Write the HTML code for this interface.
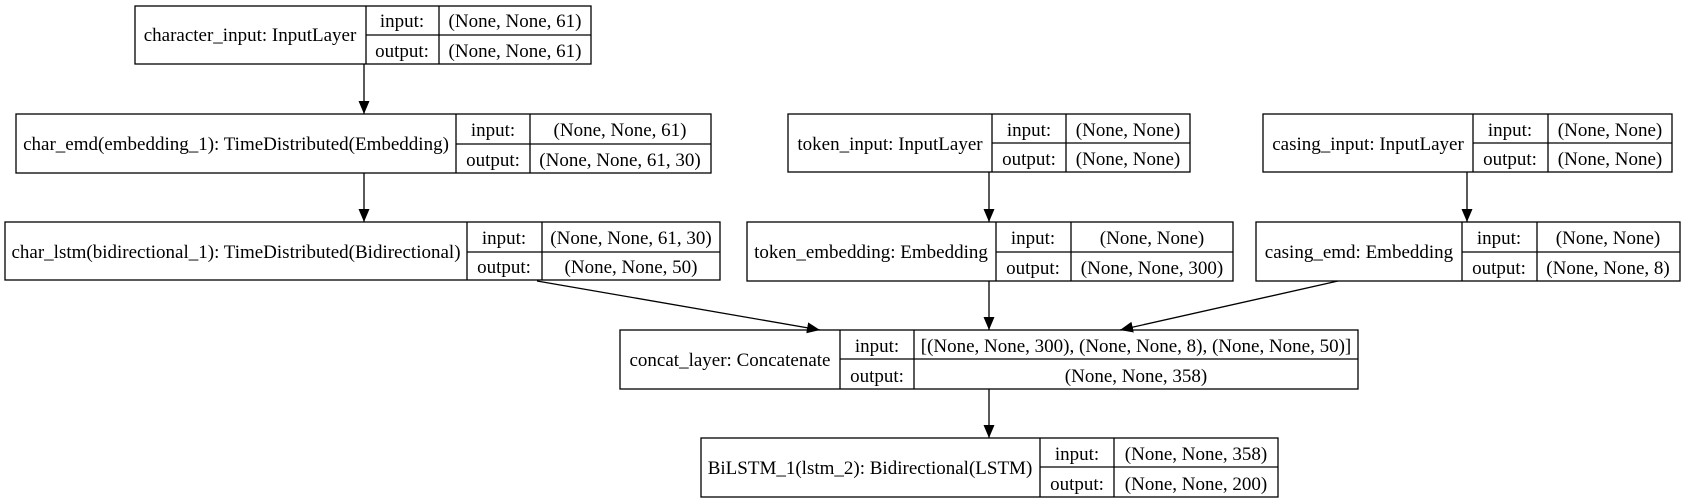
<!DOCTYPE html>
<html><head><meta charset="utf-8"><style>
html,body{margin:0;padding:0;background:#fff;}
svg{display:block;}
text{font-family:"Liberation Serif",serif;font-size:19px;fill:#000;text-anchor:middle;}
rect,line.b{fill:none;stroke:#000;stroke-width:1.3;}
</style></head><body>
<svg width="1685" height="503" viewBox="0 0 1685 503" xmlns="http://www.w3.org/2000/svg">
<defs><marker id="ah" markerWidth="10" markerHeight="10" refX="10" refY="5" orient="auto" markerUnits="userSpaceOnUse" viewBox="0 0 10 10"><path d="M0,0 L10,5 L0,10 z" fill="#000"/></marker>
<marker id="a2" markerWidth="13" markerHeight="13" refX="13" refY="6.5" orient="auto" markerUnits="userSpaceOnUse" viewBox="0 0 13 13"><path d="M0,1 L13,6.5 L0,12 z" fill="#000"/></marker></defs>

<!-- node1 -->
<rect x="135" y="6" width="456" height="58"/>
<line class="b" x1="366" y1="6" x2="366" y2="64"/><line class="b" x1="439" y1="6" x2="439" y2="64"/><line class="b" x1="366" y1="35" x2="591" y2="35"/>
<text x="250" y="41">character_input: InputLayer</text>
<text x="402" y="27">input:</text><text x="402" y="57">output:</text>
<text x="515" y="27">(None, None, 61)</text><text x="515" y="57">(None, None, 61)</text>

<!-- char_emd -->
<rect x="16" y="114" width="695" height="59"/>
<line class="b" x1="456" y1="114" x2="456" y2="173"/><line class="b" x1="530" y1="114" x2="530" y2="173"/><line class="b" x1="456" y1="144" x2="711" y2="144"/>
<text x="236" y="150">char_emd(embedding_1): TimeDistributed(Embedding)</text>
<text x="493" y="136">input:</text><text x="493" y="166">output:</text>
<text x="620" y="136">(None, None, 61)</text><text x="620" y="166">(None, None, 61, 30)</text>

<!-- char_lstm -->
<rect x="5" y="222" width="715" height="58"/>
<line class="b" x1="467" y1="222" x2="467" y2="280"/><line class="b" x1="542" y1="222" x2="542" y2="280"/><line class="b" x1="467" y1="252" x2="720" y2="252"/>
<text x="236" y="258">char_lstm(bidirectional_1): TimeDistributed(Bidirectional)</text>
<text x="504" y="244">input:</text><text x="504" y="273">output:</text>
<text x="631" y="244">(None, None, 61, 30)</text><text x="631" y="273">(None, None, 50)</text>

<!-- token_input -->
<rect x="788" y="114" width="402" height="58"/>
<line class="b" x1="992" y1="114" x2="992" y2="172"/><line class="b" x1="1066" y1="114" x2="1066" y2="172"/><line class="b" x1="992" y1="143" x2="1190" y2="143"/>
<text x="890" y="150">token_input: InputLayer</text>
<text x="1029" y="136">input:</text><text x="1029" y="165">output:</text>
<text x="1128" y="136">(None, None)</text><text x="1128" y="165">(None, None)</text>

<!-- casing_input -->
<rect x="1263" y="114" width="409" height="58"/>
<line class="b" x1="1473" y1="114" x2="1473" y2="172"/><line class="b" x1="1548" y1="114" x2="1548" y2="172"/><line class="b" x1="1473" y1="143" x2="1672" y2="143"/>
<text x="1368" y="150">casing_input: InputLayer</text>
<text x="1510" y="136">input:</text><text x="1510" y="165">output:</text>
<text x="1610" y="136">(None, None)</text><text x="1610" y="165">(None, None)</text>

<!-- token_embedding -->
<rect x="747" y="222" width="486" height="59"/>
<line class="b" x1="996" y1="222" x2="996" y2="281"/><line class="b" x1="1071" y1="222" x2="1071" y2="281"/><line class="b" x1="996" y1="252" x2="1233" y2="252"/>
<text x="871" y="258">token_embedding: Embedding</text>
<text x="1033" y="244">input:</text><text x="1033" y="274">output:</text>
<text x="1152" y="244">(None, None)</text><text x="1152" y="274">(None, None, 300)</text>

<!-- casing_emd -->
<rect x="1256" y="222" width="424" height="59"/>
<line class="b" x1="1462" y1="222" x2="1462" y2="281"/><line class="b" x1="1537" y1="222" x2="1537" y2="281"/><line class="b" x1="1462" y1="252" x2="1680" y2="252"/>
<text x="1359" y="258">casing_emd: Embedding</text>
<text x="1499" y="244">input:</text><text x="1499" y="274">output:</text>
<text x="1608" y="244">(None, None)</text><text x="1608" y="274">(None, None, 8)</text>

<!-- concat -->
<rect x="620" y="330" width="738" height="59"/>
<line class="b" x1="840" y1="330" x2="840" y2="389"/><line class="b" x1="914" y1="330" x2="914" y2="389"/><line class="b" x1="840" y1="359" x2="1358" y2="359"/>
<text x="730" y="366">concat_layer: Concatenate</text>
<text x="877" y="352">input:</text><text x="877" y="382">output:</text>
<text x="1136" y="352">[(None, None, 300), (None, None, 8), (None, None, 50)]</text><text x="1136" y="382">(None, None, 358)</text>

<!-- BiLSTM -->
<rect x="701" y="438" width="577" height="59"/>
<line class="b" x1="1040" y1="438" x2="1040" y2="497"/><line class="b" x1="1114" y1="438" x2="1114" y2="497"/><line class="b" x1="1040" y1="467" x2="1278" y2="467"/>
<text x="870" y="474">BiLSTM_1(lstm_2): Bidirectional(LSTM)</text>
<text x="1077" y="460">input:</text><text x="1077" y="490">output:</text>
<text x="1196" y="460">(None, None, 358)</text><text x="1196" y="490">(None, None, 200)</text>

<!-- edges -->
<g stroke="#000" stroke-width="1.3" fill="none">
<line x1="364" y1="64" x2="364" y2="114" marker-end="url(#a2)"/>
<line x1="364" y1="173" x2="364" y2="222" marker-end="url(#a2)"/>
<line x1="989" y1="172" x2="989" y2="222" marker-end="url(#a2)"/>
<line x1="1467" y1="172" x2="1467" y2="222" marker-end="url(#a2)"/>
<line x1="989" y1="281" x2="989" y2="330" marker-end="url(#a2)"/>
<line x1="537" y1="281" x2="820" y2="330" marker-end="url(#a2)"/>
<line x1="1338" y1="281" x2="1120" y2="330" marker-end="url(#a2)"/>
<line x1="989" y1="389" x2="989" y2="438" marker-end="url(#a2)"/>
</g>
</svg>
</body></html>
